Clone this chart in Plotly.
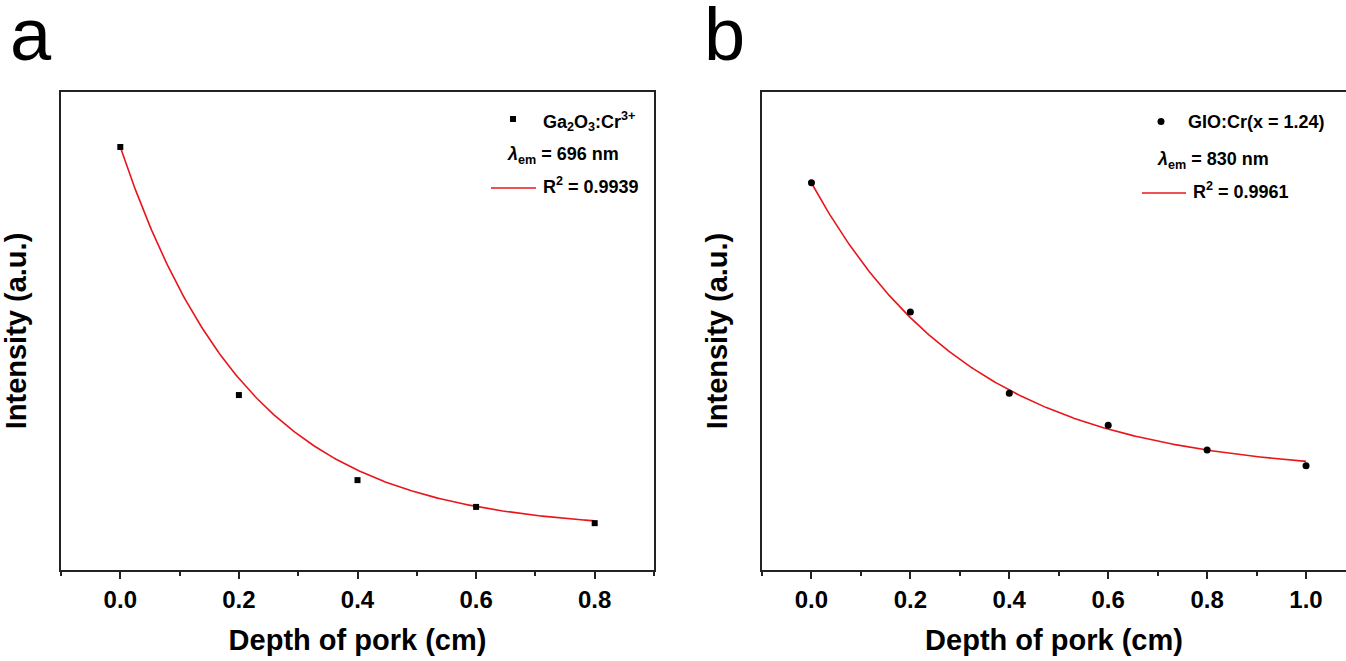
import numpy as np
import plotly.graph_objects as go

# ---------------- data ----------------
# Panel a: Ga2O3:Cr3+ (emission at 696 nm)
depth_a = [0.0, 0.2, 0.4, 0.6, 0.8]
intensity_a = [0.885, 0.366, 0.188, 0.132, 0.098]
# exponential-decay fit  y = y0 + A*exp(-x/t)
fit_a = {"A": 0.802, "t": 0.216, "y0": 0.083}
r2_a = "0.9939"

# Panel b: GIO:Cr (x = 1.24), emission at 830 nm
depth_b = [0.0, 0.2, 0.4, 0.6, 0.8, 1.0]
intensity_b = [0.810, 0.540, 0.370, 0.303, 0.251, 0.218]
fit_b = {"A": 0.610, "t": 0.323, "y0": 0.1996}
r2_b = "0.9961"

x_ticks_a = [0.0, 0.2, 0.4, 0.6, 0.8]
x_ticks_b = [0.0, 0.2, 0.4, 0.6, 0.8, 1.0]

# ---------------- styling ----------------
W, H = 1346, 661
FONT = "Liberation Sans, Arial, sans-serif"
RED = "#E8161B"
INK = "#222222"


def px(x):
    return x / W


def py(y):
    return 1 - y / H


def fit_curve(params, x_max):
    xs = np.linspace(0.0, x_max, 300)
    return xs, params["y0"] + params["A"] * np.exp(-xs / params["t"])


fig = go.Figure()

xa, ya = fit_curve(fit_a, max(depth_a))
fig.add_trace(go.Scatter(x=xa, y=ya, mode="lines", line=dict(color=RED, width=1.6),
                         xaxis="x", yaxis="y", showlegend=False, hoverinfo="skip"))
fig.add_trace(go.Scatter(x=depth_a, y=intensity_a, mode="markers",
                         marker=dict(symbol="square", size=6, color="black"),
                         xaxis="x", yaxis="y", showlegend=False))

xb, yb = fit_curve(fit_b, max(depth_b))
fig.add_trace(go.Scatter(x=xb, y=yb, mode="lines", line=dict(color=RED, width=1.6),
                         xaxis="x2", yaxis="y2", showlegend=False, hoverinfo="skip"))
fig.add_trace(go.Scatter(x=depth_b, y=intensity_b, mode="markers",
                         marker=dict(symbol="circle", size=7, color="black"),
                         xaxis="x2", yaxis="y2", showlegend=False))

y_dom = [py(570), py(92)]
title_font = dict(family=FONT, size=29, color="black", weight="bold")

common_x = dict(
    showline=True, linecolor=INK, linewidth=1.6, mirror=True,
    ticks="outside", ticklen=7, tickwidth=1.5, tickcolor=INK,
    tickformat=".1f", tickfont=dict(family=FONT, size=24, color="black", weight="bold"),
    showgrid=False, zeroline=False,
    minor=dict(ticks="outside", ticklen=4, tickwidth=1.5, tickcolor=INK, dtick=0.1, showgrid=False),
)
common_y = dict(
    showline=True, linecolor=INK, linewidth=1.6,
    showticklabels=False, ticks="", showgrid=False, zeroline=False,
    range=[0, 1],
    title=dict(text="Intensity (a.u.)", font=title_font, standoff=24),
)

xa_ax = dict(common_x)
xa_ax.update(domain=[px(61), px(654)], range=[-0.1, 0.9], tickvals=x_ticks_a, anchor="y",
             title=dict(text="Depth of pork (cm)", font=title_font, standoff=18))
xb_ax = dict(common_x)
xb_ax.update(domain=[px(762), 1.0], range=[-0.1, 1.0808], tickvals=x_ticks_b, anchor="y2",
             title=dict(text="Depth of pork (cm)", font=title_font, standoff=18))

ya_ax = dict(common_y)
ya_ax.update(domain=y_dom, anchor="x", mirror=True)
yb_ax = dict(common_y)
yb_ax.update(domain=y_dom, anchor="x2", mirror=False)

fig.update_layout(
    width=W, height=H,
    margin=dict(l=0, r=0, t=0, b=0),
    paper_bgcolor="white", plot_bgcolor="white",
    xaxis=xa_ax, yaxis=ya_ax, xaxis2=xb_ax, yaxis2=yb_ax,
    showlegend=False,
)

# panel letters
for letter, x0 in (("a", 8), ("b", 702)):
    fig.add_annotation(text=letter, x=px(x0), y=py(35), xref="paper", yref="paper",
                       xanchor="left", yanchor="middle", showarrow=False,
                       font=dict(family=FONT, size=74, color="black"))

leg_font = dict(family=FONT, size=18, color="black", weight="bold")


def legend_text(text, x, y):
    fig.add_annotation(text=text, x=px(x), y=py(y), xref="paper", yref="paper",
                       xanchor="left", yanchor="middle", showarrow=False, font=leg_font)


# panel a legend
fig.add_shape(type="rect", xref="paper", yref="paper",
              x0=px(510), x1=px(516), y0=py(122), y1=py(116),
              fillcolor="black", line=dict(width=0))
legend_text("<b>Ga<sub>2</sub>O<sub>3</sub>:Cr<sup>3+</sup></b>", 541, 121)
legend_text("<b><i>λ</i><sub>em</sub> = 696 nm</b>", 505, 156)
fig.add_shape(type="line", xref="paper", yref="paper",
              x0=px(491), x1=px(536), y0=py(188), y1=py(188),
              line=dict(color=RED, width=1.6))
legend_text("<b>R<sup>2</sup> = " + r2_a + "</b>", 541, 186)

# panel b legend
fig.add_shape(type="circle", xref="paper", yref="paper",
              x0=px(1157.5), x1=px(1164.5), y0=py(125), y1=py(118),
              fillcolor="black", line=dict(width=0))
legend_text("<b>GIO:Cr(x = 1.24)</b>", 1186, 122)
legend_text("<b><i>λ</i><sub>em</sub> = 830 nm</b>", 1155, 160)
fig.add_shape(type="line", xref="paper", yref="paper",
              x0=px(1142), x1=px(1186), y0=py(193), y1=py(193),
              line=dict(color=RED, width=1.6))
legend_text("<b>R<sup>2</sup> = " + r2_b + "</b>", 1191, 191)

fig.write_html("out.html")
